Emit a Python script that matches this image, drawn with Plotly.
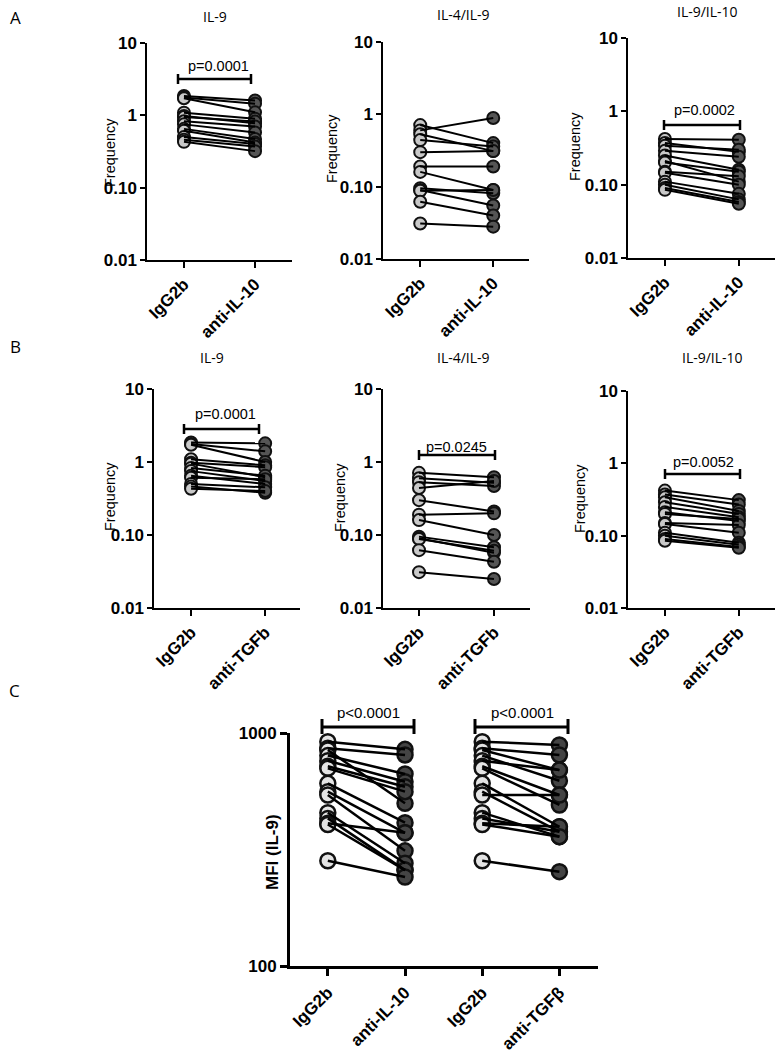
import plotly.graph_objects as go

# ---------------- data ----------------
cats_A = ["IgG2b", "anti-IL-10"]
cats_B = ["IgG2b", "anti-TGFb"]
cats_C = ["IgG2b", "anti-IL-10", "IgG2b", "anti-TGFβ"]

titles_AB = ["IL-9", "IL-4/IL-9", "IL-9/IL-10"]

# IL-9 frequency
il9_igg = [1.85, 1.76, 1.72, 1.09, 0.98, 0.95, 0.83, 0.75, 0.65, 0.61, 0.50, 0.46, 0.43]
il9_anti_il10 = [1.60, 1.45, 1.10, 0.90, 0.78, 0.82, 0.70, 0.58, 0.47, 0.42, 0.40, 0.37, 0.32]
il9_anti_tgfb = [1.80, 1.40, 1.00, 0.90, 0.85, 0.62, 0.65, 0.55, 0.50, 0.58, 0.45, 0.38, 0.40]

# IL-4/IL-9 frequency
il4il9_igg = [0.71, 0.60, 0.53, 0.44, 0.30, 0.19, 0.16, 0.095, 0.090, 0.088, 0.062, 0.031]
il4il9_anti_il10 = [0.40, 0.89, 0.31, 0.36, 0.31, 0.19, 0.090, 0.081, 0.055, 0.090, 0.040, 0.028]
il4il9_anti_tgfb = [0.62, 0.52, 0.47, 0.55, 0.21, 0.198, 0.10, 0.068, 0.057, 0.061, 0.043, 0.025]

# IL-9/IL-10 frequency
il9il10_igg = [0.42, 0.37, 0.34, 0.29, 0.25, 0.21, 0.20, 0.15, 0.145, 0.11, 0.10, 0.09, 0.085]
il9il10_anti_il10 = [0.41, 0.28, 0.30, 0.24, 0.16, 0.11, 0.15, 0.13, 0.10, 0.075, 0.063, 0.058, 0.055]
il9il10_anti_tgfb = [0.31, 0.27, 0.22, 0.20, 0.18, 0.16, 0.17, 0.14, 0.11, 0.08, 0.075, 0.07, 0.068]

# MFI (IL-9)
mfi_igg = [918, 860, 845, 800, 760, 720, 705, 608, 560, 542, 455, 430, 410, 405, 283]
mfi_anti_il10 = [851, 805, 499, 667, 618, 588, 560, 412, 373, 312, 276, 258, 373, 258, 241]
mfi_igg_2 = [918, 860, 845, 800, 760, 720, 705, 608, 560, 542, 455, 430, 410, 405, 283]
mfi_anti_tgfb = [888, 805, 693, 624, 693, 542, 491, 396, 377, 542, 359, 377, 396, 359, 254]

pvals_AB = {1: "p=0.0001", 3: "p=0.0002", 4: "p=0.0001", 5: "p=0.0245", 6: "p=0.0052"}
pvals_C = ["p<0.0001", "p<0.0001"]

# ---------------- layout helpers ----------------
W, H = 778, 1052
def px(x):
    return x / W
def py(y):
    return 1 - y / H

fig = go.Figure()

BOLD = "Liberation Sans, Arial, sans-serif"
REG = "Liberation Sans, Arial, sans-serif"
HUM = "Open Sans, Noto Sans, sans-serif"

LIGHT = "#c9c9c9"
DARK = "#555555"

# panel geometry: (x_left, x_right, y_top, y_bottom, xrange)
geom = {
    1: (147, 292, 43, 260, [-0.52, 1.52]),
    2: (383, 529, 42, 259, [-0.51, 1.49]),
    3: (628, 775, 38, 258, [-0.50, 1.49]),
    4: (154, 300, 389, 608, [-0.50, 1.47]),
    5: (383, 530, 389, 608, [-0.48, 1.48]),
    6: (628, 775, 391, 608, [-0.50, 1.49]),
}

panels = {
    1: (il9_igg, il9_anti_il10, cats_A),
    2: (il4il9_igg, il4il9_anti_il10, cats_A),
    3: (il9il10_igg, il9il10_anti_il10, cats_A),
    4: (il9_igg, il9_anti_tgfb, cats_B),
    5: (il4il9_igg, il4il9_anti_tgfb, cats_B),
    6: (il9il10_igg, il9il10_anti_tgfb, cats_B),
}

layout_axes = {}

def add_pairs(i, left, right, xl, xr, msize, lw, light, dark, mlw):
    xs, ys = [], []
    for a, b in zip(left, right):
        xs += [xl, xr, None]
        ys += [a, b, None]
    ax = "" if i == 1 else str(i)
    fig.add_trace(go.Scatter(x=[xl] * len(left), y=left, mode="markers",
                             marker=dict(size=msize, color=light, line=dict(color="#111111", width=mlw)),
                             xaxis="x" + ax, yaxis="y" + ax, showlegend=False, cliponaxis=False))
    fig.add_trace(go.Scatter(x=[xr] * len(right), y=right, mode="markers",
                             marker=dict(size=msize, color=dark, line=dict(color="#111111", width=mlw)),
                             xaxis="x" + ax, yaxis="y" + ax, showlegend=False, cliponaxis=False))
    fig.add_trace(go.Scatter(x=xs, y=ys, mode="lines", line=dict(color="black", width=lw),
                             xaxis="x" + ax, yaxis="y" + ax, showlegend=False, hoverinfo="skip"))

TICKFONT = dict(family=BOLD, size=17, color="black", weight="bold")

for i in range(1, 7):
    left, right, cats = panels[i]
    x0, x1, yt, yb, xr = geom[i]
    add_pairs(i, left, right, 0, 1, 12, 2, LIGHT, DARK, 2)
    ax = "" if i == 1 else str(i)
    layout_axes["xaxis" + ax] = dict(
        domain=[px(x0), px(x1)], range=xr, anchor="y" + ax, automargin=False,
        tickvals=[0, 1], ticktext=cats, tickangle=-45,
        showline=True, linecolor="black", linewidth=1.5,
        ticks="outside", ticklen=6, tickwidth=1.5, tickcolor="black",
        showgrid=False, zeroline=False, tickfont=TICKFONT,
    )
    layout_axes["yaxis" + ax] = dict(
        domain=[py(yb), py(yt)], type="log", range=[-2, 1], anchor="x" + ax, automargin=False,
        tickvals=[0.01, 0.1, 1, 10], ticktext=["0.01", "0.10", "1", "10"],
        showline=True, linecolor="black", linewidth=1.5,
        ticks="outside", ticklen=5, tickwidth=1.5, tickcolor="black",
        showgrid=False, zeroline=False, tickfont=TICKFONT,
    )

# Panel C
add_pairs(7, mfi_igg, mfi_anti_il10, 0, 1, 15, 2.5, "#e4e4e4", "#444444", 2.5)
add_pairs(7, mfi_igg_2, mfi_anti_tgfb, 2, 3, 15, 2.5, "#e4e4e4", "#444444", 2.5)
layout_axes["xaxis7"] = dict(
    domain=[px(290), px(598)], range=[-0.49, 3.5], anchor="y7", automargin=False,
    tickvals=[0, 1, 2, 3], ticktext=cats_C, tickangle=-45,
    showline=True, linecolor="black", linewidth=3,
    ticks="outside", ticklen=7, tickwidth=3, tickcolor="black",
    showgrid=False, zeroline=False, tickfont=TICKFONT,
)
layout_axes["yaxis7"] = dict(
    domain=[py(966), py(733)], type="log", range=[2, 3], anchor="x7", automargin=False,
    tickvals=[100, 1000], ticktext=["100", "1000"],
    showline=True, linecolor="black", linewidth=3,
    ticks="outside", ticklen=7, tickwidth=3, tickcolor="black",
    showgrid=False, zeroline=False, tickfont=TICKFONT,
)

annotations = []
shapes = []

def note(text, x, y, font, angle=0):
    annotations.append(dict(text=text, x=px(x), y=py(y), xref="paper", yref="paper",
                            xanchor="center", yanchor="middle", textangle=angle,
                            showarrow=False, font=font))

# panel letters
for letter, (x, y) in {"A": (15, 18), "B": (15, 346), "C": (14, 690)}.items():
    note(letter, x, y, dict(family=HUM, size=17, color="black"))

# panel titles
title_pos = {1: (215, 16), 2: (463, 15), 3: (707, 12), 4: (212, 357), 5: (463, 357), 6: (712, 357)}
for i, (x, y) in title_pos.items():
    note(titles_AB[(i - 1) % 3], x, y, dict(family=HUM, size=14, color="black"))

# y-axis titles
ytitle_pos = {1: (110, 153), 2: (332, 149), 3: (575, 147), 4: (110, 497), 5: (340, 498), 6: (580, 499)}
for i, (x, y) in ytitle_pos.items():
    note("Frequency", x, y, dict(family=REG, size=14.5, color="black"), angle=-90)
note("<b>MFI (IL-9)</b>", 272, 852, dict(family=BOLD, size=17, color="black"), angle=-90)

# significance brackets: (x_left, x_right, y, half tick, text center x, text center y, width)
brackets = {
    1: (178, 251, 79, 5, 218, 66, 2.5),
    3: (664, 740, 125, 5, 704, 110, 2.5),
    4: (184, 259, 429, 5, 225, 414, 2.5),
    5: (419, 495, 455, 5, 456, 447, 2.5),
    6: (665, 740, 474, 5, 703, 462, 2.5),
}
for i, (xl, xr_, y, h, tx, ty, w) in brackets.items():
    shapes.append(dict(type="line", xref="paper", yref="paper", x0=px(xl), x1=px(xr_), y0=py(y), y1=py(y),
                       line=dict(color="black", width=w)))
    for xe in (xl, xr_):
        shapes.append(dict(type="line", xref="paper", yref="paper", x0=px(xe), x1=px(xe),
                           y0=py(y - h), y1=py(y + h), line=dict(color="black", width=w)))
    note(pvals_AB[i], tx, ty, dict(family=REG, size=14.5, color="black"))

for k, (xl, xr_, tx) in enumerate([(322, 414, 368), (475, 568, 522)]):
    y = 727
    shapes.append(dict(type="line", xref="paper", yref="paper", x0=px(xl), x1=px(xr_), y0=py(y), y1=py(y),
                       line=dict(color="black", width=3)))
    for xe in (xl, xr_):
        shapes.append(dict(type="line", xref="paper", yref="paper", x0=px(xe), x1=px(xe),
                           y0=py(y - 8), y1=py(y + 7), line=dict(color="black", width=3)))
    note(pvals_C[k], tx, 712, dict(family=REG, size=15, color="black"))

fig.update_layout(
    width=W, height=H,
    margin=dict(l=0, r=0, t=0, b=0),
    paper_bgcolor="white", plot_bgcolor="white",
    showlegend=False,
    annotations=annotations,
    shapes=shapes,
    **layout_axes,
)

fig.write_html("out.html", config={"displayModeBar": False},
               post_script="document.body.style.margin='0px';")
